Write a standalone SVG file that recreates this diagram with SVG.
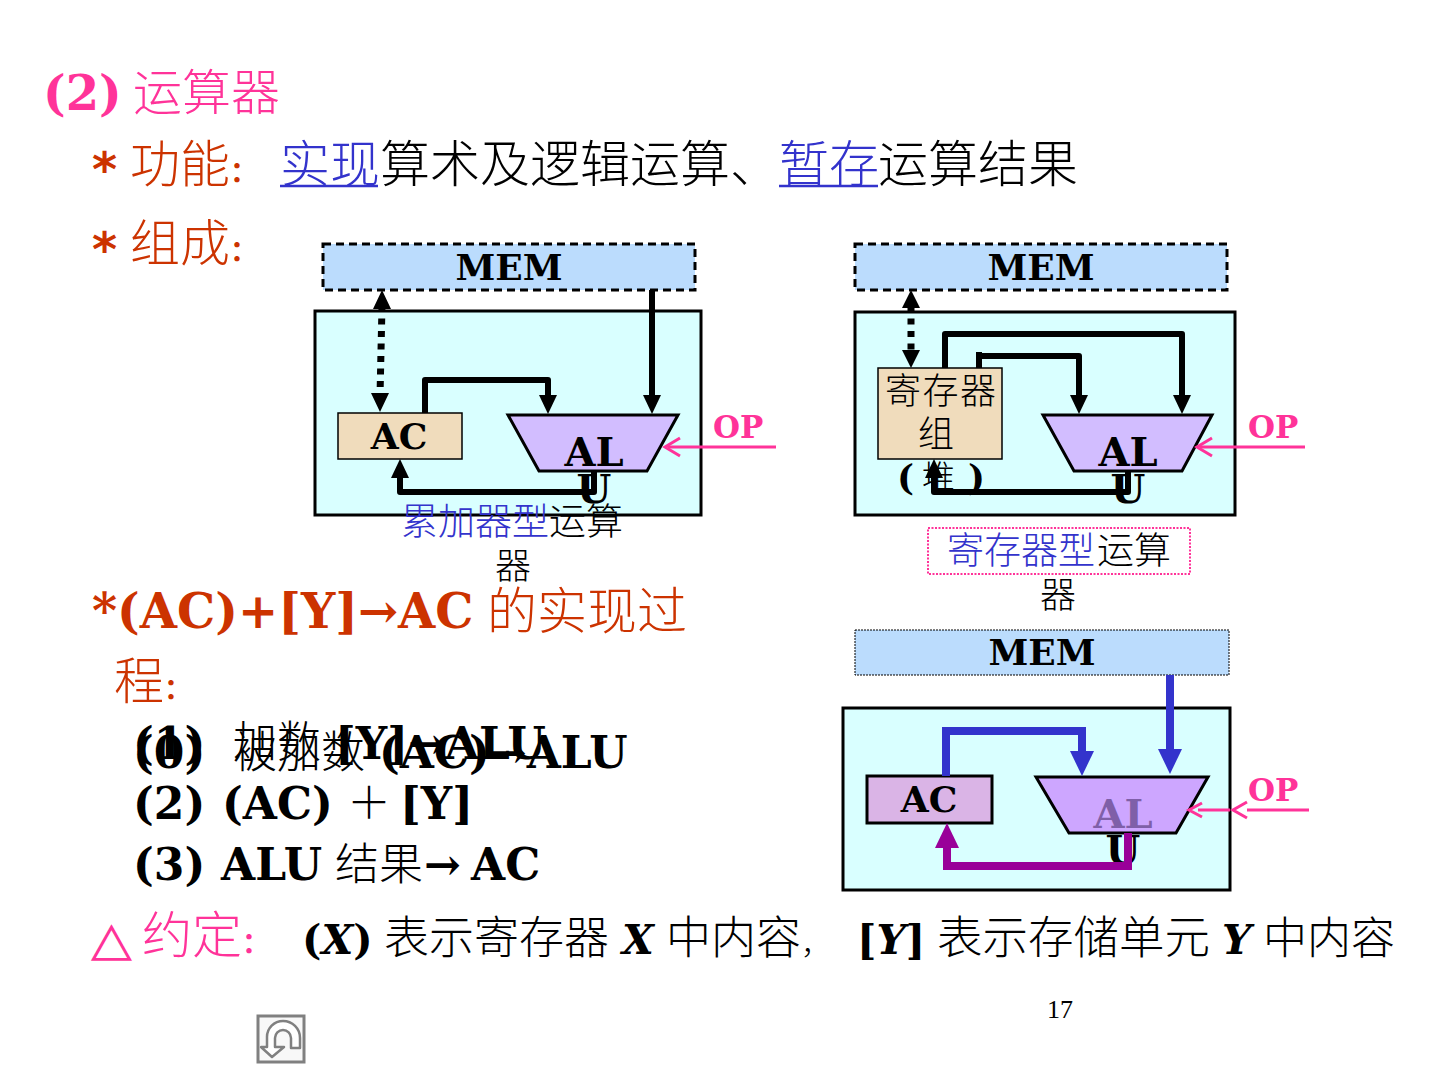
<svg xmlns="http://www.w3.org/2000/svg" width="1440" height="1080" viewBox="0 0 1440 1080">
<style>
text{font-family:"DejaVu Serif","Liberation Serif","Noto Sans CJK SC",serif;fill:#000}
.b{font-weight:700}
.c{font-family:"Noto Sans CJK SC","DejaVu Sans",sans-serif;font-weight:300}
.st{font-family:"DejaVu Sans",sans-serif;font-weight:700}
.pink{fill:#ff3399}.or{fill:#cc3300}.bl{fill:#3333cc}
.mem{fill:#bbdcfd}
.lbl{font-size:36px;font-weight:700;text-anchor:middle}
.al{font-size:40px;font-weight:700;text-anchor:middle}
.op{font-size:31px;font-weight:700;fill:#ff3399}
.box{fill:#d9ffff;stroke:#000;stroke-width:3}
.tan{fill:#f0dcbc;stroke:#000;stroke-width:1.5}
.alu{fill:#d2bdff;stroke:#000;stroke-width:3}
.k{fill:none;stroke:#000;stroke-width:6;stroke-linejoin:round}
.pk{fill:none;stroke:#ff3399;stroke-width:3}
.bu{fill:none;stroke:#3333cc;stroke-width:8}
.pu{fill:none;stroke:#990099;stroke-width:8}
.co{font-size:28px;font-weight:700}
</style>
<g id="heading">
<text class="b pink" x="43" y="110" font-size="48">(2)</text>
<text class="c pink" x="133" y="110" font-size="49">运算器</text>
<text class="st or" x="92" y="186" font-size="48">*</text>
<text class="c or" x="130" y="182" font-size="50">功能<tspan class="co">：</tspan></text>
<text class="c bl" x="280" y="182" font-size="50">实现</text>
<path d="M280 186H378" stroke="#3333cc" stroke-width="2.5"/>
<text class="c" x="380" y="182" font-size="50">算术及逻辑运算、</text>
<text class="c bl" x="779" y="182" font-size="50">暂存</text>
<path d="M779 186H878" stroke="#3333cc" stroke-width="2.5"/>
<text class="c" x="878" y="182" font-size="50">运算结果</text>
<text class="st or" x="92" y="266" font-size="48">*</text>
<text class="c or" x="130" y="261" font-size="50">组成<tspan class="co">：</tspan></text>
</g>
<g id="accumulator">
<rect class="box" x="315" y="311" width="386" height="204"/>
<rect class="mem" x="323" y="244" width="372" height="46"/>
<rect x="323" y="244" width="372" height="46" fill="none" stroke="#000" stroke-width="3" stroke-dasharray="8 5"/>
<text class="lbl" x="509" y="280">MEM</text>
<rect class="tan" x="338" y="413" width="124" height="46"/>
<text class="lbl" x="399" y="449">AC</text>
<polygon class="alu" points="508,415 678,415 647,471 539,471"/>
<text class="al" x="594" y="466">AL</text>
<text class="al" x="594" y="503">U</text>
<text class="op" x="713" y="438">OP</text>
<text class="c bl" x="401" y="535" font-size="37">累加器型</text>
<text class="c" x="549" y="535" font-size="37">运算</text>
<text class="c" x="495" y="579" font-size="36">器</text>
</g>
<g id="register">
<rect class="box" x="855" y="312" width="380" height="203"/>
<rect class="mem" x="855" y="244" width="372" height="46"/>
<rect x="855" y="244" width="372" height="46" fill="none" stroke="#000" stroke-width="3" stroke-dasharray="8 5"/>
<text class="lbl" x="1041" y="280">MEM</text>
<rect class="tan" x="878" y="368" width="124" height="91"/>
<text class="c" x="885" y="404" font-size="36" letter-spacing="1.5">寄存器</text>
<text class="c" x="918" y="447" font-size="36">组</text>
<text class="b" x="897" y="490" font-size="36">(</text>
<text class="c" x="922" y="489" font-size="33">堆</text>
<text class="b" x="968" y="490" font-size="36">)</text>
<polygon class="alu" points="1043,415 1212,415 1182,471 1074,471"/>
<text class="al" x="1128" y="466">AL</text>
<text class="al" x="1128" y="503">U</text>
<text class="op" x="1248" y="438">OP</text>
<rect x="928" y="528" width="262" height="46" fill="none" stroke="#ff3399" stroke-width="2" stroke-dasharray="2 1.5"/>
<text class="c bl" x="947" y="564" font-size="37">寄存器型</text>
<text class="c" x="1097" y="564" font-size="37">运算</text>
<text class="c" x="1040" y="608" font-size="36">器</text>
</g>
<g id="process">
<rect class="box" x="843" y="708" width="387" height="182"/>
<rect class="mem" x="855" y="630" width="374" height="45" stroke="#000" stroke-width="1" stroke-dasharray="2 1"/>
<text class="lbl" x="1042" y="665">MEM</text>
<rect x="867" y="776" width="125" height="47" fill="#dab4e6" stroke="#000" stroke-width="3"/>
<text class="lbl" x="929" y="812">AC</text>
<polygon points="1036,777 1208,777 1176,833 1069,833" fill="#cda6ff" stroke="#000" stroke-width="3"/>
<text class="al" x="1123" y="828" style="fill:#7f5fa8">AL</text>
<text class="al" x="1123" y="864">U</text>
<text class="op" x="1248" y="801">OP</text>
</g>
<g id="connectors">
<path class="k" d="M382 306L380 396" stroke-dasharray="6 6.5" style="stroke-width:7"/>
<path d="M382 290l-9 19h18zM380 412l-9-19h18z"/>
<path class="k" d="M652 290V398"/><path d="M652 414l-9-19h18z"/>
<path class="k" d="M425 413V380H548V398"/><path d="M548 414l-9-19h18z"/>
<path class="k" d="M594 472V492H400V476"/><path d="M400 459l-9 19h18z"/>
<path class="pk" d="M776 447H668"/><path class="pk" d="M680 438l-15 9 15 9"/>
<path class="k" d="M911 306V352" stroke-dasharray="6 6.5" style="stroke-width:7"/>
<path d="M911 290l-9 18h18zM911 368l-9-18h18z"/>
<path class="k" d="M945 368V334H1182V398"/><path d="M1182 414l-9-19h18z"/>
<path class="k" d="M979 368V352M979 356H1079V398"/><path d="M1079 414l-9-19h18z"/>
<path class="k" d="M1128 472V492H934V476"/><path d="M934 459l-9 19h18z"/>
<path class="pk" d="M1305 447H1200"/><path class="pk" d="M1212 438l-15 9 15 9"/>
<path class="bu" d="M1170 675V752"/><path d="M1170 774l-12-25h24z" fill="#3333cc"/>
<path class="bu" d="M946 776V731H1082V755"/><path d="M1082 776l-12-25h24z" fill="#3333cc"/>
<path class="pu" d="M1128 833V866H947V845"/><path d="M947 823l-12 25h24z" fill="#990099"/>
<path class="pk" d="M1309 810H1247M1198 810H1230"/><path class="pk" d="M1247 802l-14 8 14 8M1202 803l-13 7 13 7"/>
</g>
<g id="body">
<text class="b or" x="92" y="628" font-size="48">*(AC)+[Y]→AC</text>
<text class="c or" x="487" y="629" font-size="50">的实现过</text>
<text class="c or" x="114" y="699" font-size="50">程<tspan class="co">：</tspan></text>
<text class="b" x="133" y="759" font-size="44">(1)</text>
<text class="c" x="233" y="758" font-size="44">加数</text>
<text class="b" x="335" y="759" font-size="44">[Y]→ALU</text>
<text class="b" x="133" y="768" font-size="44">(0)</text>
<text class="c" x="233" y="768" font-size="44">被加数</text>
<text class="b" x="379" y="768" font-size="44">(AC)→ALU</text>
<text class="b" x="133" y="819" font-size="44">(2)</text>
<text class="b" x="222" y="819" font-size="44">(AC)</text>
<text class="c" x="347" y="819" font-size="44">＋</text>
<text class="b" x="400" y="819" font-size="44">[Y]</text>
<text class="b" x="133" y="880" font-size="44">(3)</text>
<text class="b" x="221" y="880" font-size="44">ALU</text>
<text class="c" x="335" y="880" font-size="44">结果</text>
<text class="b" x="424" y="880" font-size="44">→</text>
<text class="b" x="471" y="880" font-size="44">AC</text>
<text class="c pink" x="91" y="960" font-size="41" stroke="#ff3399" stroke-width="1.5">△</text>
<text class="c pink" x="142" y="953" font-size="50">约定<tspan class="co">：</tspan></text>
<text class="b" x="302" y="954" font-size="41">(<tspan font-style="italic">X</tspan>)</text>
<text class="c" x="384" y="954" font-size="45">表示寄存器</text>
<text class="b" x="622" y="954" font-size="41" font-style="italic">X</text>
<text class="c" x="666" y="954" font-size="45">中内容<tspan font-size="30">，</tspan></text>
<text class="b" x="857" y="954" font-size="41">[<tspan font-style="italic">Y</tspan>]</text>
<text class="c" x="937" y="954" font-size="45.5">表示存储单元</text>
<text class="b" x="1222" y="954" font-size="41" font-style="italic">Y</text>
<text class="c" x="1263" y="954" font-size="44">中内容</text>
<text x="1047" y="1018" font-size="26" style="font-family:'Liberation Serif',serif">17</text>
</g>
<g id="return-button">
<rect x="258" y="1016" width="46" height="46" fill="#f8f8f8" stroke="#808080" stroke-width="3"/>
<path d="M272 1057L261 1047H267V1037A16 16 0 0 1 283 1021A17 17 0 0 1 300 1038V1048H291V1038A8 8 0 0 0 283 1030A8 8 0 0 0 275 1038V1047H284Z" fill="#fff" stroke="#808080" stroke-width="2.5" stroke-linejoin="round"/>
</g>
</svg>
